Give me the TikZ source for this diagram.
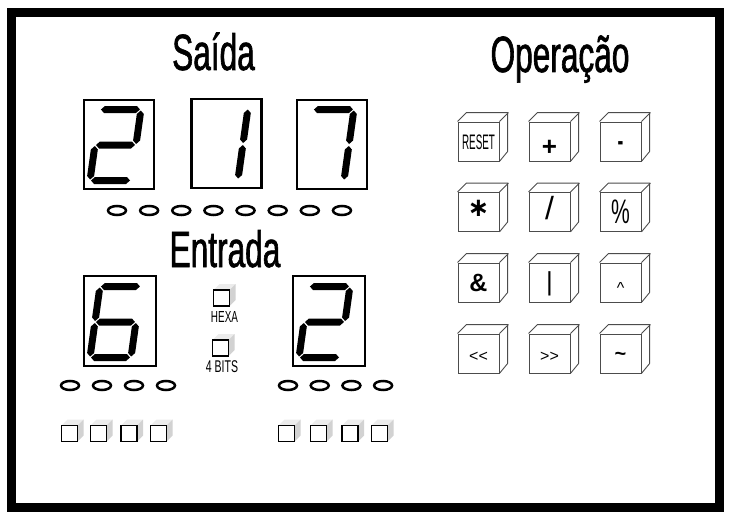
\documentclass[tikz,border=0pt]{standalone}
\usepackage{fontspec}
\setmainfont{Liberation Sans}
\newfontfamily\condfont[FakeStretch=0.62]{Liberation Sans}
\newfontfamily\titlefont[FakeStretch=0.62,FakeBold=1.2]{Liberation Sans}
\newfontfamily\narrowfont[FakeStretch=0.47]{Liberation Sans}
\newfontfamily\djvfont{DejaVu Sans}
\usetikzlibrary{shapes.geometric}

\tikzset{
  frame/.style={line width=9pt},
  disp/.style={draw, line width=2.5pt, minimum width=70pt, minimum height=89pt, inner sep=0pt},
  led/.style={ellipse, draw, line width=2.5pt, minimum width=18pt, minimum height=9pt, inner sep=0pt},
  sw/.style={draw, fill=white, line width=1.2pt, minimum size=16pt, inner sep=0pt},
  btn/.style={draw=black!70, fill=white, line width=0.9pt, minimum width=41pt, minimum height=39pt, inner sep=0pt},
  cube/.style={draw=black!70, line width=0.9pt},
  title/.style={font=\titlefont\fontsize{51}{51}\selectfont, anchor=base, inner sep=0pt},
  lbl/.style={anchor=base, inner sep=0pt},
}

% seven-segment pieces (local frame: origin bottom-left, y downwards)
\newcommand\hsegm[3]{\fill ({#1+1},{#3}) -- ({#1+4.5},{#3-3.5}) -- ({#2-4.5},{#3-3.5}) -- ({#2-1},{#3}) -- ({#2-4.5},{#3+3.5}) -- ({#1+4.5},{#3+3.5}) -- cycle;}
\newcommand\vsegm[3]{\fill ({#1},{#2+1}) -- ({#1+3.5},{#2+4.5}) -- ({#1+3.5},{#3-4.5}) -- ({#1},{#3-1}) -- ({#1-3.5},{#3-4.5}) -- ({#1-3.5},{#2+4.5}) -- cycle;}
\newcommand\segA{\hsegm{0}{41}{-71}}
\newcommand\segB{\vsegm{41}{-71}{-35.5}}
\newcommand\segC{\vsegm{41}{-35.5}{0}}
\newcommand\segD{\hsegm{0}{41}{0}}
\newcommand\segE{\vsegm{0}{-35.5}{0}}
\newcommand\segF{\vsegm{0}{-71}{-35.5}}
\newcommand\segG{\hsegm{0}{41}{-35.5}}

% 3D shading of small switches
\newcommand\swshade[2]{%
  \fill[gray!15] ({#1-8},{#2-8}) -- ({#1-2},{#2-14}) -- ({#1+14},{#2-14}) -- ({#1+8},{#2-8}) -- cycle;
  \fill[gray!35] ({#1+8},{#2-8}) -- ({#1+14},{#2-14}) -- ({#1+14},{#2+2}) -- ({#1+8},{#2+8}) -- cycle;}

% cube button
\newcommand\cubebtn[3]{%
  \node[btn] (#1) at (#2,#3) {};
  \draw[cube] (#1.north west) -- ++(9,-9) -- ++(41,0) -- ++(0,39) -- (#1.south east);
  \draw[cube] (#1.north east) -- ++(9,-9);}

\begin{document}
\begin{tikzpicture}[x=1pt,y=-1pt]
\useasboundingbox (0,0) rectangle (731,519);
\fill[white] (0,0) rectangle (731,519);
\draw[frame] (11.5,12.5) rectangle (719.5,507.5);

% titles
\node[title] (tSaida) at (213.5,70) {Saída};
\node[title] (tOper) at (560,72) {Operação};
\node[title] (tEntr) at (225,267) {Entrada};

% displays
\node[disp] (d1) at (119,144.5) {};
\node[disp] (d2) at (226.5,143.5) {};
\node[disp] (d3) at (332,144.5) {};
\node[disp, minimum width=72pt, minimum height=90pt] (d4) at (120,321) {};
\node[disp, minimum width=72pt, minimum height=90pt] (d5) at (329,321) {};

\begin{scope}[shift={(90,180.5)}, xslant=0.14] \segA\segB\segG\segE\segD \end{scope}
\begin{scope}[shift={(197,179.5)}, xslant=0.14] \segB\segC \end{scope}
\begin{scope}[shift={(303,180.5)}, xslant=0.14] \segA\segB\segC \end{scope}
\begin{scope}[shift={(90,357.5)}, xslant=0.14] \segA\segF\segG\segE\segD\segC \end{scope}
\begin{scope}[shift={(299,357.5)}, xslant=0.14] \segA\segB\segG\segE\segD \end{scope}

% output LEDs
\foreach \i in {0,...,7} {
  \node[led] (o\i) at ({117+32.14*\i},210.5) {};
}
% input LEDs
\foreach \i in {0,...,3} {
  \node[led] (a\i) at ({70+32*\i},385.5) {};
  \node[led] (b\i) at ({288+31.7*\i},385.5) {};
}

% input switches
\foreach \x [count=\k] in {69.5,98.5,129,158.5} {
  \swshade{\x}{433.5}
  \node[sw] (sa\k) at (\x,433.5) {};
}
\foreach \x [count=\k] in {286.5,318.5,350,379.5} {
  \swshade{\x}{433.5}
  \node[sw] (sb\k) at (\x,433.5) {};
}
\swshade{221.5}{298}
\node[sw] (sHexa) at (221.5,298) {};
\node[lbl] (lHexa) at (224.5,322) {\condfont\fontsize{16}{16}\selectfont HEXA};
\swshade{220.5}{348}
\node[sw] (sBits) at (220.5,348) {};
\node[lbl] (lBits) at (222,372) {\condfont\fontsize{17}{17}\selectfont 4 BITS};

% operation buttons
\cubebtn{bReset}{478.5}{141.5}
\cubebtn{bAdd}{549.5}{141.5}
\cubebtn{bSub}{620.5}{141.5}
\cubebtn{bMul}{478.5}{212}
\cubebtn{bDiv}{549.5}{212}
\cubebtn{bMod}{620.5}{212}
\cubebtn{bAnd}{478.5}{282.5}
\cubebtn{bOr}{549.5}{282.5}
\cubebtn{bXor}{620.5}{282.5}
\cubebtn{bShl}{478.5}{353.5}
\cubebtn{bShr}{549.5}{353.5}
\cubebtn{bNot}{620.5}{353.5}

\node[lbl] (lReset) at (478.5,149.5) {\narrowfont\fontsize{21}{21}\selectfont RESET};
\node[lbl] (lAdd) at (549.5,155) {\bfseries\fontsize{26}{26}\selectfont +};
\node[lbl] (lSub) at (620.5,150.8) {\condfont\bfseries\fontsize{28}{28}\selectfont -};
\node[lbl] (lMul) at (478.5,216) {\djvfont\bfseries\fontsize{26}{26}\selectfont ∗};
\node[lbl] (lDiv) at (549.5,219.4) {\fontsize{32}{32}\selectfont /};
\node[lbl] (lMod) at (620.5,223.5) {\condfont\fontsize{34}{34}\selectfont\%};
\node[lbl] (lAnd) at (478.5,291.5) {\bfseries\fontsize{25}{25}\selectfont\&};
\node[lbl] (lOr) at (549.5,290.3) {\fontsize{26}{26}\selectfont|};
\node[lbl] (lXor) at (620.5,293) {\fontsize{16}{16}\selectfont\textasciicircum};
\node[lbl] (lShl) at (478.5,361.6) {\fontsize{16}{16}\selectfont <{}<};
\node[lbl] (lShr) at (549.5,361.6) {\fontsize{16}{16}\selectfont >{}>};
\node[lbl] (lNot) at (620.5,360) {\bfseries\fontsize{20}{20}\selectfont\textasciitilde};
\end{tikzpicture}
\end{document}
